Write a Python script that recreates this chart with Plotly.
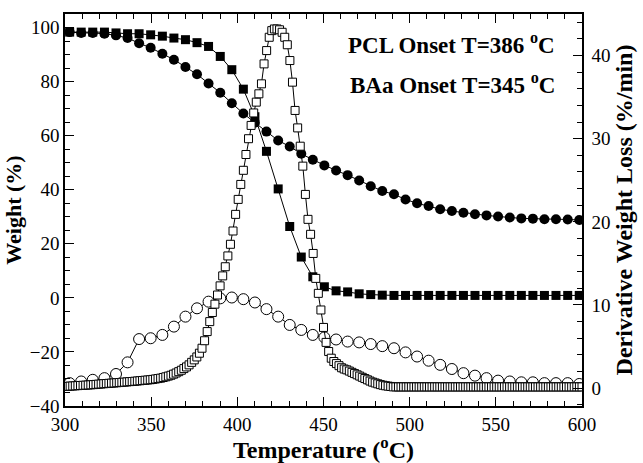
import plotly.graph_objects as go

# Temperature grid (°C) of the weight curves and the BAa derivative curve
temp_coarse = [302.7, 309.4, 316.1, 322.9, 329.6, 336.3, 343.0, 349.7, 356.5, 363.2,
               369.9, 376.6, 383.3, 390.1, 396.8, 403.5, 410.2, 416.9, 423.7, 430.4,
               437.1, 443.8, 450.5, 457.3, 464.0, 470.7, 477.4, 484.1, 490.9, 497.6,
               504.3, 511.0, 517.7, 524.5, 531.2, 537.9, 544.6, 551.3, 558.1, 564.8,
               571.5, 578.2, 584.9, 591.7, 598.4]

# PCL weight (%)
pcl_weight = [98.3, 98.3, 98.3, 98.3, 98.0, 97.7, 97.7, 97.3, 96.8, 96.1,
              95.5, 94.4, 93.0, 89.3, 84.4, 77.2, 67.0, 54.2, 40.3, 26.4,
              15.1, 7.8, 4.1, 2.6, 2.2, 1.5, 1.2, 1.0, 0.9, 0.9,
              0.9, 0.9, 0.9, 0.9, 0.9, 0.9, 0.9, 0.9, 0.9, 0.9,
              0.9, 0.9, 0.9, 0.9, 0.9]

# BAa weight (%)
baa_weight = [98.3, 98.0, 98.0, 97.7, 97.1, 96.1, 94.2, 92.5, 90.3, 88.1,
              85.4, 82.7, 79.3, 75.9, 72.0, 68.2, 64.8, 61.5, 58.2, 56.0,
              53.3, 51.1, 49.0, 47.1, 45.4, 43.4, 41.3, 39.5, 38.3, 36.4,
              35.0, 34.0, 32.8, 32.1, 31.5, 30.9, 30.5, 30.1, 29.7, 29.4,
              29.3, 29.1, 29.1, 29.0, 28.8]

# BAa derivative weight loss (%/min)
baa_deriv = [0.6, 0.8, 1.0, 1.2, 1.7, 3.1, 5.9, 6.0, 6.4, 7.4,
             8.6, 9.6, 10.4, 10.8, 10.9, 10.7, 10.3, 9.5, 8.6, 7.6,
             7.0, 6.4, 6.1, 5.85, 5.6, 5.5, 5.3, 5.05, 4.8, 4.3,
             3.8, 3.3, 2.8, 2.3, 1.8, 1.5, 1.2, 0.9, 0.8, 0.7,
             0.7, 0.6, 0.6, 0.6, 0.5]

# PCL derivative weight loss (%/min), sampled every 1.5 °C from 300 °C
temp_fine = [300 + 1.5 * k for k in range(201)]
pcl_deriv = [0.20, 0.22, 0.24, 0.26, 0.28, 0.30, 0.32, 0.34, 0.36, 0.38,
             0.40, 0.42, 0.45, 0.48, 0.50, 0.53, 0.55, 0.58, 0.60, 0.62,
             0.65, 0.67, 0.70, 0.72, 0.75, 0.78, 0.80, 0.83, 0.86, 0.89,
             0.92, 0.95, 0.98, 1.01, 1.05, 1.10, 1.15, 1.20, 1.28, 1.36,
             1.45, 1.55, 1.68, 1.82, 1.98, 2.15, 2.35, 2.55, 2.80, 3.10,
             3.40, 3.75, 4.20, 4.80, 5.70, 6.80, 8.00, 9.10, 10.10, 11.20,
             12.30, 13.50, 14.60, 15.90, 17.30, 18.90, 20.90, 22.70, 24.50, 26.20,
             28.10, 30.00, 31.60, 33.10, 34.40, 35.40, 36.60, 39.00, 40.60, 42.20,
             43.00, 43.20, 43.20, 43.10, 42.80, 42.20, 41.30, 39.40, 36.80, 33.40,
             31.30, 29.10, 26.70, 23.30, 20.30, 18.50, 16.20, 13.20, 11.40, 9.40,
             7.30, 5.50, 4.40, 3.60, 3.20, 2.95, 2.70, 2.45, 2.30, 2.20,
             2.05, 1.90, 1.75, 1.60, 1.45, 1.30, 1.15, 1.00, 0.85, 0.72,
             0.62, 0.52, 0.42, 0.35, 0.28, 0.24, 0.20, 0.15, 0.15, 0.15,
             0.15, 0.15, 0.15, 0.15, 0.15, 0.15, 0.15, 0.15, 0.15, 0.15,
             0.15, 0.15, 0.15, 0.15, 0.15, 0.15, 0.15, 0.15, 0.15, 0.15,
             0.15, 0.15, 0.15, 0.15, 0.15, 0.15, 0.15, 0.15, 0.15, 0.15,
             0.15, 0.15, 0.15, 0.15, 0.15, 0.15, 0.15, 0.15, 0.15, 0.15,
             0.15, 0.15, 0.15, 0.15, 0.15, 0.15, 0.15, 0.15, 0.15, 0.15,
             0.15, 0.15, 0.15, 0.15, 0.15, 0.15, 0.15, 0.15, 0.15, 0.15,
             0.15, 0.15, 0.15, 0.15, 0.15, 0.15, 0.15, 0.15, 0.15, 0.15,
             0.15]

FONT = "Liberation Serif"
LINE = dict(color="black", width=1)

fig = go.Figure()

fig.add_trace(go.Scatter(
    x=temp_coarse, y=baa_weight, mode="lines+markers", line=LINE,
    marker=dict(symbol="circle", size=10, color="black", line=dict(width=0)),
    name="BAa weight"))
fig.add_trace(go.Scatter(
    x=temp_coarse, y=pcl_weight, mode="lines+markers", line=LINE,
    marker=dict(symbol="square", size=9, color="black", line=dict(width=0)),
    name="PCL weight"))
fig.add_trace(go.Scatter(
    x=temp_coarse, y=baa_deriv, yaxis="y2", mode="lines+markers", line=LINE,
    marker=dict(symbol="circle", size=11, color="white", line=dict(color="black", width=1)),
    name="BAa derivative"))
fig.add_trace(go.Scatter(
    x=temp_fine, y=pcl_deriv, yaxis="y2", mode="lines+markers", line=LINE,
    marker=dict(symbol="square", size=8, color="white", line=dict(color="black", width=1)),
    name="PCL derivative"))

tick_font = dict(family=FONT, size=19, color="black")

fig.update_layout(
    width=643, height=463,
    margin=dict(l=62, r=60, t=13, b=55),
    paper_bgcolor="white", plot_bgcolor="white",
    showlegend=False,
    font=dict(family=FONT, color="black"),
    xaxis=dict(
        range=[300, 600], dtick=50, tick0=300,
        showline=True, linecolor="black", linewidth=1.5, mirror="ticks",
        ticks="inside", ticklen=9, tickwidth=1.3, tickcolor="black",
        minor=dict(dtick=10, ticks="inside", ticklen=5, tickwidth=1.3, tickcolor="black"),
        showgrid=False, zeroline=False,
        tickfont=tick_font,
        title=dict(text="<b>Temperature (<sup>o</sup>C)</b>",
                   font=dict(family=FONT, size=24, color="black"), standoff=0),
    ),
    yaxis=dict(
        range=[-40, 105], dtick=20, tick0=0,
        showline=True, linecolor="black", linewidth=1.5, mirror=True,
        ticks="inside", ticklen=9, tickwidth=1.3, tickcolor="black",
        minor=dict(dtick=5, ticks="inside", ticklen=5, tickwidth=1.3, tickcolor="black"),
        showgrid=False, zeroline=False,
        tickfont=tick_font,
        title=dict(text="<b>Weight (%)</b>",
                   font=dict(family=FONT, size=22, color="black"), standoff=2),
    ),
    yaxis2=dict(
        range=[-2.15, 45], dtick=10, tick0=0, overlaying="y", side="right",
        showline=True, linecolor="black", linewidth=1.5,
        ticks="inside", ticklen=9, tickwidth=1.3, tickcolor="black",
        minor=dict(dtick=2, ticks="inside", ticklen=5, tickwidth=1.3, tickcolor="black"),
        showgrid=False, zeroline=False,
        tickfont=tick_font, ticklabelstandoff=4,
        title=dict(text="<b>Derivative Weight Loss (%/min)</b>",
                   font=dict(family=FONT, size=24, color="black"), standoff=4),
    ),
    annotations=[
        dict(text="<b>PCL Onset T=386 <sup>o</sup>C</b>", x=558, y=43, xref="paper", yref="paper",
             showarrow=False, xanchor="right", yanchor="middle",
             font=dict(family=FONT, size=23, color="black")),
        dict(text="<b>BAa Onset T=345 <sup>o</sup>C</b>", x=558, y=83, xref="paper", yref="paper",
             showarrow=False, xanchor="right", yanchor="middle",
             font=dict(family=FONT, size=23, color="black")),
    ],
)

# place the two onset labels in pixel terms of the plot area
plot_l, plot_r, plot_t, plot_b = 62, 583, 13, 408
for ann in fig.layout.annotations:
    ann.x = (ann.x - plot_l) / (plot_r - plot_l)
    ann.y = (plot_b - ann.y) / (plot_b - plot_t)

fig.write_html("out.html")
